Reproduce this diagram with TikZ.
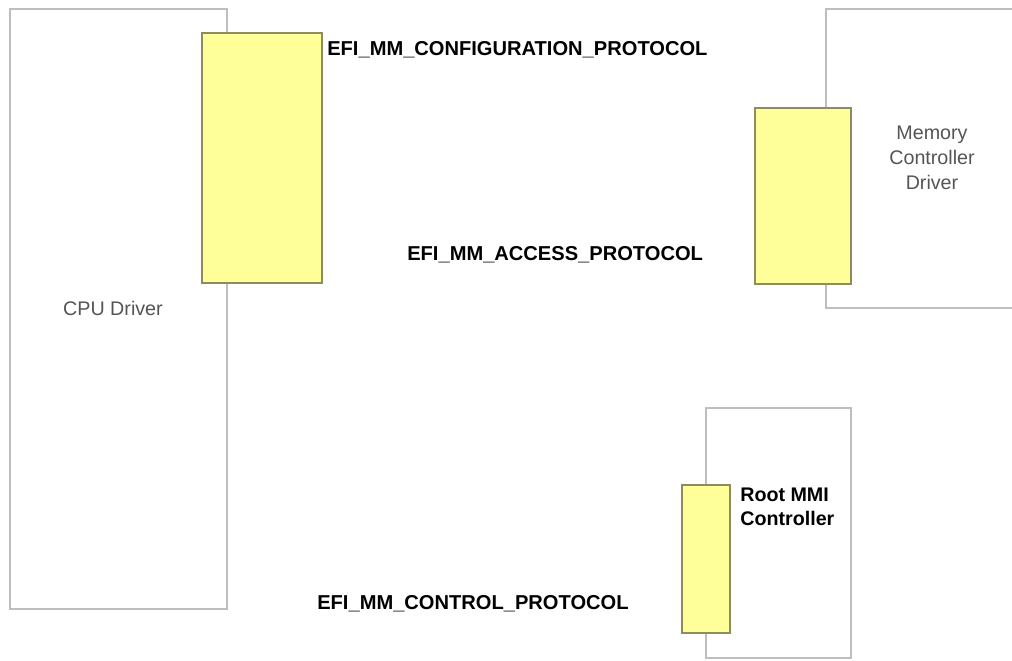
\documentclass[tikz,border=0pt]{standalone}
\usepackage{fontspec}
\setmainfont{Liberation Sans}
\usetikzlibrary{positioning}
\begin{document}
\begin{tikzpicture}[x=0.025cm, y=-0.025cm]
    % Colours
    \definecolor{boxgray}{RGB}{190, 190, 190}
    \definecolor{protofill}{RGB}{255, 255, 153}
    \definecolor{protoline}{RGB}{140, 140, 95}
    \definecolor{drvtext}{RGB}{85, 85, 85}
    \tikzset{
        driver/.style={draw=boxgray, line width=1.4pt, fill=white, inner sep=0pt},
        proto/.style={draw=protoline, line width=1pt, fill=protofill, inner sep=0pt},
        drvlabel/.style={text=drvtext, align=center, font=\fontsize{14}{17.8}\selectfont},
        protolabel/.style={font=\fontsize{14.3}{17}\bfseries\selectfont, inner sep=0pt}
    }

    % 1. Page frame
    \clip (0,0) rectangle (1012,660);

    % 2. Drivers
    \node[driver, minimum width=5.425cm, minimum height=15cm] (cpu) at (118.5,309) {};
    \node[driver, minimum width=4.85cm, minimum height=7.475cm] (memctl) at (923,158.5) {};
    \node[driver, minimum width=3.625cm, minimum height=6.25cm] (rootmmi) at (778.5,533) {};

    % 3. Protocol interfaces
    \node[proto, minimum width=3cm, minimum height=6.25cm] (cfgif) at (262,158) {};
    \node[proto, minimum width=2.4cm, minimum height=4.4cm] (accif) at (803,196) {};
    \node[proto, minimum width=1.2cm, minimum height=3.7cm] (ctlif) at (706,559) {};

    % 4. Texts
    \node[drvlabel] (cputxt) at (113,308) {CPU Driver};
    \node[drvlabel] (memtxt) at (932,158) {Memory\\Controller\\Driver};
    \node[protolabel, anchor=north west, align=left, font=\fontsize{14}{16.5}\bfseries\selectfont]
        (roottxt) at (740,488) {Root MMI\\Controller};
    \node[protolabel, anchor=west] (cfgtxt) at (327,50) {EFI\_MM\_CONFIGURATION\_PROTOCOL};
    \node[protolabel, anchor=west] (acctxt) at (407,255) {EFI\_MM\_ACCESS\_PROTOCOL};
    \node[protolabel, anchor=west] (ctltxt) at (317,604) {EFI\_MM\_CONTROL\_PROTOCOL};
\end{tikzpicture}
\end{document}
